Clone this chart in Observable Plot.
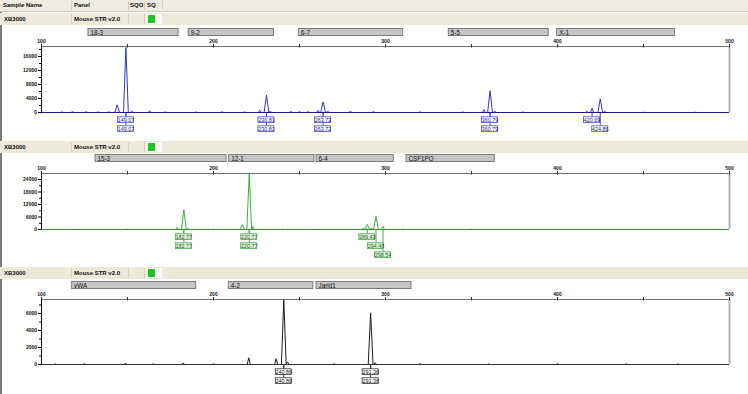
<!DOCTYPE html>
<html><head><meta charset="utf-8">
<script src="https://cdn.jsdelivr.net/npm/d3@7"></script>
<script src="https://cdn.jsdelivr.net/npm/@observablehq/plot@0.6"></script>
<style>
body{margin:0;background:#fff;}
#root{position:relative;width:748px;height:394px;overflow:hidden;font-family:"Liberation Sans",Arial,sans-serif;background:#fff;}
.abs{position:absolute;}
.hdr{font-size:6px;font-weight:bold;color:#111;line-height:11px;}
.band{background:#ECE9D8;left:0;width:748px;height:12px;}
.cell{font-size:6px;font-weight:bold;color:#111;line-height:12px;}
svg{overflow:visible;}
</style></head><body><div id="root"></div>
<script>
// ---------- data ----------
const headerCols = ["Sample Name", "Panel", "SQO", "SQ"];
const sampleName = "XB3000";
const panelName = "Mouse STR v2.0";
const xTicks = [100, 200, 300, 400, 500];
const xMinor = [150, 250, 350, 450];

// panel 1 (blue)
const bins1 = ["18-3", "9-2", "6-7", "5-5", "X-1"];
const bins1Start = [127.3, 185.6, 249.6, 336.8, 399.8];
const bins1End = [179.7, 235.1, 310.3, 394.9, 468.2];
const peaks1Pos = [112, 118, 126, 133, 139, 144.0, 149.07, 152.5, 162.8, 172, 190, 205, 218, 226.9, 230.81, 233, 245, 250, 255, 260.8, 263.72, 266.5, 279.6, 293, 320, 345, 357.2, 360.79, 363.5, 380, 417.0, 420.09, 424.86, 427.5, 450, 480];
const peaks1H = [150, 200, 250, 150, 200, 2200, 18600, 400, 500, 150, 150, 200, 150, 600, 5000, 300, 300, 250, 250, 600, 3050, 300, 300, 250, 150, 150, 800, 6200, 400, 150, 400, 1250, 3900, 300, 100, 100];
const labels1 = ["149.07", "149.07", "230.81", "230.81", "263.72", "263.72", "360.79", "360.79", "420.09", "424.86"];
const labels1Row = [1, 2, 1, 2, 1, 2, 1, 2, 1, 2];
const yTicks1 = [0, 4000, 8000, 12000, 16000];
const yMinor1 = [2000, 6000, 10000, 14000, 18000];

// panel 2 (green)
const bins2 = ["15-3", "12-1", "6-4", "CSF1PO"];
const bins2Start = [131.4, 209.1, 259.9, 312.2];
const bins2End = [207.6, 258.7, 304.8, 363.5];
const peaks2Pos = [120, 150, 178.9, 182.77, 185, 200, 216.7, 220.77, 223, 240, 260, 287, 289.43, 291.8, 294.48, 298.54, 310, 350, 420];
const peaks2H = [200, 200, 1100, 9500, 400, 200, 2400, 26800, 1500, 200, 200, 600, 2450, 800, 6370, 1470, 200, 200, 150];
const labels2 = ["182.77", "182.77", "220.77", "220.77", "289.43", "294.48", "298.54"];
const labels2Row = [1, 2, 1, 2, 1, 2, 3];
const yTicks2 = [0, 6000, 12000, 18000, 24000];
const yMinor2 = [3000, 9000, 15000, 21000];

// panel 3 (black)
const bins3 = ["vWA", "4-2", "Jarid1"];
const bins3Start = [117.8, 208.9, 259.9];
const bins3End = [189.9, 258.0, 315.1];
const peaks3Pos = [108, 125, 148.8, 165, 182.4, 200, 220.5, 236.4, 240.86, 243, 270, 291.36, 294, 320, 360, 400, 440, 470];
const peaks3H = [60, 80, 120, 60, 150, 60, 790, 670, 7600, 300, 80, 6080, 200, 80, 60, 80, 60, 60];
const labels3 = ["240.86", "240.86", "291.36", "291.36"];
const labels3Row = [1, 2, 1, 2];
const yTicks3 = [0, 2000, 4000, 6000];
const yMinor3 = [1000, 3000, 5000, 7000];

// ---------- layout / styles ----------
const FONT = "Liberation Sans, Arial, sans-serif";
const panels = [
  {band: 13, bin: 28, frameTop: 46, frameH: 66, ymax: 18860, color: "#3535c8", base: "#1c1c80",
   boxStroke: "#4a4ac8", boxFill: "#ffffff", boxText: "#22228a",
   bins: bins1, bs: bins1Start, be: bins1End, pos: peaks1Pos, h: peaks1H, labels: labels1, rows: labels1Row, yt: yTicks1, ym: yMinor1},
  {band: 141, bin: 154, frameTop: 173, frameH: 56, ymax: 26880, color: "#3cb03c", base: "#3c8a3c",
   boxStroke: "#4aa84a", boxFill: "#e2f2e2", boxText: "#225f22",
   bins: bins2, bs: bins2Start, be: bins2End, pos: peaks2Pos, h: peaks2H, labels: labels2, rows: labels2Row, yt: yTicks2, ym: yMinor2},
  {band: 267, bin: 281, frameTop: 299, frameH: 65, ymax: 7650, color: "#1a1a1a", base: "#333333",
   boxStroke: "#333333", boxFill: "#ffffff", boxText: "#111111",
   bins: bins3, bs: bins3Start, be: bins3End, pos: peaks3Pos, h: peaks3H, labels: labels3, rows: labels3Row, yt: yTicks3, ym: yMinor3}
];

const root = document.getElementById("root");
function div(cls, style, text) {
  const d = document.createElement("div");
  d.className = "abs " + (cls || "");
  Object.assign(d.style, style);
  if (text != null) d.textContent = text;
  root.appendChild(d);
  return d;
}
function place(node, top) {
  node.style.position = "absolute";
  node.style.left = "0px";
  node.style.top = top + "px";
  root.appendChild(node);
}

// left border
div("", {left: "0px", top: "11px", width: "2px", height: "383px", background: "#7c7c7c"});

// header
div("", {left: "0px", top: "0px", width: "748px", height: "11px", background: "#EEEBDF", borderBottom: "1px solid #c9c6b6"});
const hdrX = [3, 74, 130, 147];
headerCols.forEach((t, i) => div("hdr", {left: hdrX[i] + "px", top: "0px"}, t));
[71, 128, 144, 162].forEach(x => div("", {left: x + "px", top: "1px", width: "1px", height: "9px", background: "#d4d1c2"}));

// sample rows
panels.forEach(p => {
  div("band", {top: p.band + "px"});
  div("cell", {left: "4px", top: p.band + "px"}, sampleName);
  div("cell", {left: "74px", top: p.band + "px"}, panelName);
  [71, 128, 144].forEach(x => div("", {left: x + "px", top: (p.band + 1) + "px", width: "1px", height: "10px", background: "#d4d1c2"}));
  div("", {left: "146px", top: (p.band + 1) + "px", width: "16px", height: "10px", background: "#ffffff"});
  div("", {left: "148px", top: (p.band + 2) + "px", width: "7px", height: "8px", background: "#1fc41f"});
});

function traceRows(pos, h) {
  const idx = d3.sort(d3.range(pos.length), i => pos[i]);
  const rows = [{x: 100, y: 0}];
  for (const i of idx) {
    const w = h[i] > 2000 ? 1.4 : 0.9;
    rows.push({x: pos[i] - w, y: 0}, {x: pos[i], y: h[i]}, {x: pos[i] + w, y: 0});
  }
  rows.push({x: 500, y: 0});
  return rows;
}

const common = {width: 748, marginLeft: 41, marginRight: 19};

panels.forEach(p => {
  // bin strip
  const binData = p.bins.map((b, i) => ({name: b, x1: p.bs[i], x2: p.be[i]}));
  const binPlot = Plot.plot({
    ...common, height: 8, marginTop: 0, marginBottom: 0,
    x: {domain: [100, 500], axis: null},
    style: {background: "transparent", fontFamily: FONT},
    marks: [
      Plot.rect(binData, {x1: "x1", x2: "x2", fill: "#c6c6c6", stroke: "#7a7a7a", strokeWidth: 1, insetTop: 0.5, insetBottom: 0.5}),
      Plot.text(binData, {x: "x1", text: "name", textAnchor: "start", dx: 2, dy: 0, fontSize: 6.3, fill: "#111", frameAnchor: "middle"})
    ]
  });
  place(binPlot, p.bin);

  // main electropherogram
  const trace = traceRows(p.pos, p.h);
  const main = Plot.plot({
    ...common, height: 10 + p.frameH + 2, marginTop: 10, marginBottom: 2,
    x: {domain: [100, 500], axis: null},
    y: {domain: [0, p.ymax], axis: null},
    style: {background: "transparent", fontFamily: FONT},
    marks: [
      Plot.ruleY([p.ymax], {stroke: "#707070", strokeWidth: 1}),
      Plot.ruleX([500], {stroke: "#b4b4b4", strokeWidth: 2}),
      Plot.ruleX(xMinor.concat(xTicks), {y1: p.ymax, y2: p.ymax, insetTop: -2, insetBottom: -1.5, stroke: "#333"}),
      Plot.axisX({anchor: "top", ticks: xTicks, tickSize: 0, tickPadding: 4, fontSize: 5, fontWeight: "bold", label: null, tickFormat: d => String(d), fill: "#111"}),
      Plot.axisY({anchor: "left", ticks: p.yt, tickSize: 3, tickPadding: 1.5, fontSize: 5, fontWeight: "bold", label: null, tickFormat: d => String(d), fill: "#111"}),
      Plot.axisY({anchor: "left", ticks: p.ym, tickSize: 2, label: null, tickFormat: () => ""}),
      Plot.ruleX([100], {stroke: "#111", strokeWidth: 1}),
      Plot.ruleY([0], {stroke: p.base, strokeWidth: 1.2}),
      Plot.line(trace, {x: "x", y: "y", stroke: p.color, strokeWidth: 1, clip: true})
    ]
  });
  place(main, p.frameTop - 10);

  // size labels
  const lab = p.labels.map((t, i) => ({text: t, pos: +t, row: p.rows[i]}));
  const labPlot = Plot.plot({
    ...common, height: 30, marginTop: 0, marginBottom: 0,
    x: {domain: [100, 500], axis: null},
    y: {type: "band", domain: [1, 2, 3], range: [0, 28], padding: 0, axis: null},
    style: {background: "transparent", fontFamily: FONT},
    marks: [
      Plot.ruleX(lab, {x: "pos", y1: () => 1, y2: "row", insetBottom: 5.5, stroke: p.boxStroke, strokeWidth: 1}),
      Plot.rect(lab, {x1: "pos", x2: "pos", y: "row", insetLeft: -8, insetRight: -8, insetTop: 3.8, insetBottom: -0.4, fill: p.boxFill, stroke: p.boxStroke, strokeWidth: 0.8}),
      Plot.text(lab, {x: "pos", y: "row", text: "text", dy: 2.2, fontSize: 5.4, fill: p.boxText})
    ]
  });
  place(labPlot, p.frameTop + p.frameH);
});
</script></body></html>
